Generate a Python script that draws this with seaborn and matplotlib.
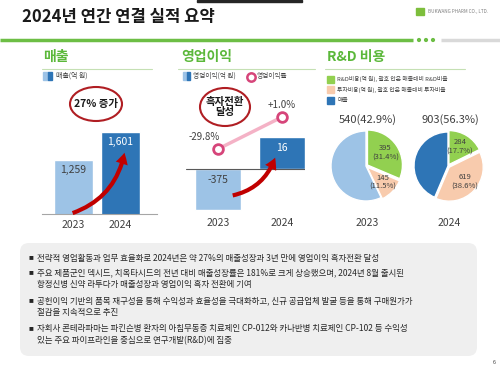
import matplotlib.pyplot as plt
import seaborn as sns
from matplotlib.ticker import NullLocator
from matplotlib.patches import Ellipse, FancyArrowPatch, FancyBboxPatch, Rectangle, Circle

sns.set_style("white")
plt.rcParams['font.family'] = ['Noto Sans CJK KR', 'DejaVu Sans']

# data
years = ["2023", "2024"]
sales = [1259, 1601]
op_income = [-375, 16]
op_margin = [-29.8, 1.0]
rnd_cost = [395, 284]
rnd_pct = [31.4, 17.7]
invest_cost = [145, 619]
invest_pct = [11.5, 38.6]
total_cost = [540, 903]
total_pct = [42.9, 56.3]

bullets = [
    ["전략적 영업활동과 업무 효율화로 2024년은 약 27%의 매출성장과 3년 만에 영업이익 흑자전환 달성"],
    ["주요 제품군인 덱시드, 치옥타시드의 전년 대비 매출성장률은 181%로 크게 상승했으며, 2024년 8월 출시된",
     "항정신병 신약 라투다가 매출성장과 영업이익 흑자 전환에 기여"],
    ["공헌이익 기반의 품목 재구성을 통해 수익성과 효율성을 극대화하고, 신규 공급업체 발굴 등을 통해 구매원가가",
     "절감을 지속적으로 추진"],
    ["자회사 콘테라파마는 파킨슨병 환자의 아침무동증 치료제인 CP-012와 카나반병 치료제인 CP-102 등 수익성",
     "있는 주요 파이프라인을 중심으로 연구개발(R&D)에 집중"],
]

LIGHT = "#9DC3E6"
DARK = "#2E75B6"
GREEN = "#92D050"
PEACH = "#F8CBAD"
HEAD = "#5BB83A"
TXT = "#404040"
RED = "#B01E23"

W, H = 500, 369
fig = plt.figure(figsize=(5, 3.69), dpi=100)


def box(x0, y0, x1, y1):
    return [x0 / W, 1 - y1 / H, (x1 - x0) / W, (y1 - y0) / H]


# ---- 매출 bars
ax1 = fig.add_axes(box(42, 120, 157, 214))
sns.barplot(x=years, y=sales, hue=years, palette=[LIGHT, DARK], width=0.83,
            saturation=1, legend=False, ax=ax1)
ax1.set_xlim(-0.67, 1.78)
ax1.set_ylim(600, 1750)
ax1.patch.set_alpha(0)
for s in ["top", "left", "right"]:
    ax1.spines[s].set_visible(False)
ax1.spines["bottom"].set_color("#A6A6A6")
ax1.set_yticks([])
ax1.set_xlabel("")
ax1.set_ylabel("")
ax1.tick_params(axis="x", length=0, labelsize=7.5, pad=4, colors=TXT)
for i, v in enumerate(sales):
    ax1.annotate(f"{v:,}", (i, v), xytext=(0, -7), textcoords="offset points",
                 ha="center", va="center", fontsize=7.5,
                 color="white" if i == 1 else TXT)

# ---- 영업이익 bars + margin line
ax2 = fig.add_axes(box(186, 100, 305, 215))
sns.barplot(x=years, y=op_income, hue=years, palette=[LIGHT, DARK], width=0.72,
            saturation=1, legend=False, ax=ax2)
ax2.set_yscale("symlog", linthresh=1, linscale=3.3)
ax2.set_ylim(-2160, 6.8e6)
ax2.set_xlim(-0.5, 1.36)
ax2.axhline(0, color="#595959", lw=0.8)
ax2.patch.set_alpha(0)
for s in ax2.spines.values():
    s.set_visible(False)
ax2.set_yticks([])
ax2.yaxis.set_minor_locator(NullLocator())
ax2.set_xlabel("")
ax2.set_ylabel("")
ax2.tick_params(axis="x", length=0, labelsize=7.5, pad=2, colors=TXT)
ax2.tick_params(axis="y", which="both", left=False, right=False)
for i, v in enumerate(op_income):
    ax2.annotate(f"{v:,}", (i, max(v, 0)), xytext=(0, -8), textcoords="offset points",
                 ha="center", va="center", fontsize=7.5,
                 color="white" if i == 1 else TXT)

ax3 = ax2.twinx()
sns.lineplot(x=years, y=op_margin, ax=ax3, color="#F4B2C6", lw=2.5, marker="o",
             markersize=7, markerfacecolor="white", markeredgecolor="#D6457A",
             markeredgewidth=2)
ax3.set_ylim(-93.3, 17.4)
for s in ax3.spines.values():
    s.set_visible(False)
ax3.set_yticks([])
ax3.yaxis.set_minor_locator(NullLocator())
ax3.set_ylabel("")
ax3.annotate(f"{op_margin[0]:.1f}%", (0, op_margin[0]), xytext=(-10, 9),
             textcoords="offset points", ha="center", va="center", fontsize=7, color=TXT)
ax3.annotate(f"+{op_margin[1]:.1f}%", (1, op_margin[1]), xytext=(0, 9),
             textcoords="offset points", ha="center", va="center", fontsize=7, color=TXT)

# ---- R&D pies
centers = [(366, 166, 35), (448, 166, 34)]
for i, (cx, cy, r) in enumerate(centers):
    s = 1.25 * r
    axp = fig.add_axes(box(cx - s, cy - s, cx + s, cy + s))
    rest = sales[i] - rnd_cost[i] - invest_cost[i]
    labels = [f"{rnd_cost[i]}\n({rnd_pct[i]}%)", f"{invest_cost[i]}\n({invest_pct[i]}%)", ""]
    wedges, texts = axp.pie([rnd_cost[i], invest_cost[i], rest], labels=labels,
                            colors=[GREEN, PEACH, LIGHT if i == 0 else DARK],
                            startangle=90, counterclock=False, explode=[0.05, 0.05, 0],
                            labeldistance=0.62, wedgeprops=dict(edgecolor="white", lw=1),
                            textprops=dict(fontsize=5.5, color=TXT, ha="center", va="center"))
    axp.set_xlim(-1.25, 1.25)
    axp.set_ylim(-1.25, 1.25)
    axp.set_aspect("equal")

# ---- overlay for slide decoration
ov = fig.add_axes([0, 0, 1, 1], zorder=10)
ov.set_xlim(0, W)
ov.set_ylim(H, 0)
ov.axis("off")
ov.patch.set_alpha(0)

ov.add_patch(Rectangle((197, 0), 105, 2, color="#262626"))
ov.text(22, 17, "2024년 연간 연결 실적 요약", fontsize=12, fontweight="bold",
        color="#1a1a1a", va="center", ha="left")
ov.add_patch(Rectangle((416, 8), 8, 7, color="#7DBE3C"))
ov.text(428, 11.5, "BUKWANG PHARM CO., LTD.", fontsize=3.3, color="#7f7f7f", va="center")
ov.plot([0, 413], [40, 40], color="#6DBE45", lw=2.5, solid_capstyle="butt")
for x in [419, 426, 433]:
    ov.add_patch(Circle((x, 40), 1.4, color="#6DBE45"))
ov.plot([441, 500], [40, 40], color="#D9D9D9", lw=2.5, solid_capstyle="butt")

# section headers
for x, x0, x1, t in [(43, 42, 152, "매출"), (181, 178, 315, "영업이익"), (327, 325, 465, "R&D 비용")]:
    ov.text(x, 57, t, fontsize=10, fontweight="bold", color=HEAD, va="center")
    ov.plot([x0, x1], [69, 69], color="#C5E0B4", lw=0.8)

# legends
ov.add_patch(Rectangle((43, 72), 4.5, 8, color=LIGHT))
ov.add_patch(Rectangle((47.5, 72), 4.5, 8, color=DARK))
ov.text(56, 76, "매출(억 원)", fontsize=5, color=TXT, va="center")
ov.add_patch(Rectangle((183, 72), 3.5, 8, color=LIGHT))
ov.add_patch(Rectangle((186.5, 72), 3.5, 8, color=DARK))
ov.text(193, 76, "영업이익(억 원)", fontsize=4.8, color=TXT, va="center")
ov.plot([251], [77], marker="o", ms=6, mfc="white", mec="#D6457A", mew=1.8)
ov.text(257, 76, "영업이익률", fontsize=4.8, color=TXT, va="center")

rd_leg = [(GREEN, "R&D비용(억 원), 괄호 안은 매출대비 R&D비율"),
          (PEACH, "투자비용(억 원), 괄호 안은 매출대비 투자비율"),
          (DARK, "매출")]
for k, (c, t) in enumerate(rd_leg):
    y = 79 + k * 10.5
    ov.add_patch(Rectangle((327, y - 3.5), 7, 7, color=c))
    ov.text(337, y, t, fontsize=4.2, color=TXT, va="center")

# pie titles and years
for (cx, cy, r), tot, pct, yr in zip(centers, total_cost, total_pct, years):
    ov.text(cx + 2, 120, f"{tot}({pct}%)", fontsize=8, color=TXT, ha="center", va="center")
    ov.text(cx + 1, 223, yr, fontsize=7.5, color=TXT, ha="center", va="center")

# callout ellipses
ov.add_patch(Ellipse((96, 104), 52, 34, fill=False, ec=RED, lw=1.5))
ov.text(96, 104, "27% 증가", fontsize=7.5, fontweight="bold", color="#1a1a1a",
        ha="center", va="center")
ov.add_patch(Ellipse((225, 107), 50, 38, fill=False, ec=RED, lw=1.5))
ov.text(225, 107, "흑자전환\n달성", fontsize=7.5, fontweight="bold", color="#1a1a1a",
        ha="center", va="center", linespacing=1.1)

# arrows
for p0, p1 in [((70, 214), (125, 150)), ((230, 196), (276, 155))]:
    ov.add_patch(FancyArrowPatch(p0, p1, connectionstyle="arc3,rad=0.3",
                                 arrowstyle="simple,head_width=0.9,head_length=0.8,tail_width=0.3",
                                 mutation_scale=10, color="#C00000", lw=0))

# text box
ov.add_patch(FancyBboxPatch((24, 247), 449, 105, boxstyle="round,pad=4,rounding_size=9",
                            fc="#EFEFEF", ec="none"))
ys = [[258], [273, 285], [301, 313], [329, 341]]
for lines, yy in zip(bullets, ys):
    ov.text(30.5, yy[0], "■", fontsize=3.5, color="#262626", va="center", ha="center")
    for t, y in zip(lines, yy):
        ov.text(37, y, t, fontsize=6.1, color="#262626", va="center")

ov.text(494, 363, "6", fontsize=4, color=TXT, ha="center", va="center")

fig.savefig("out.png", dpi=100)
